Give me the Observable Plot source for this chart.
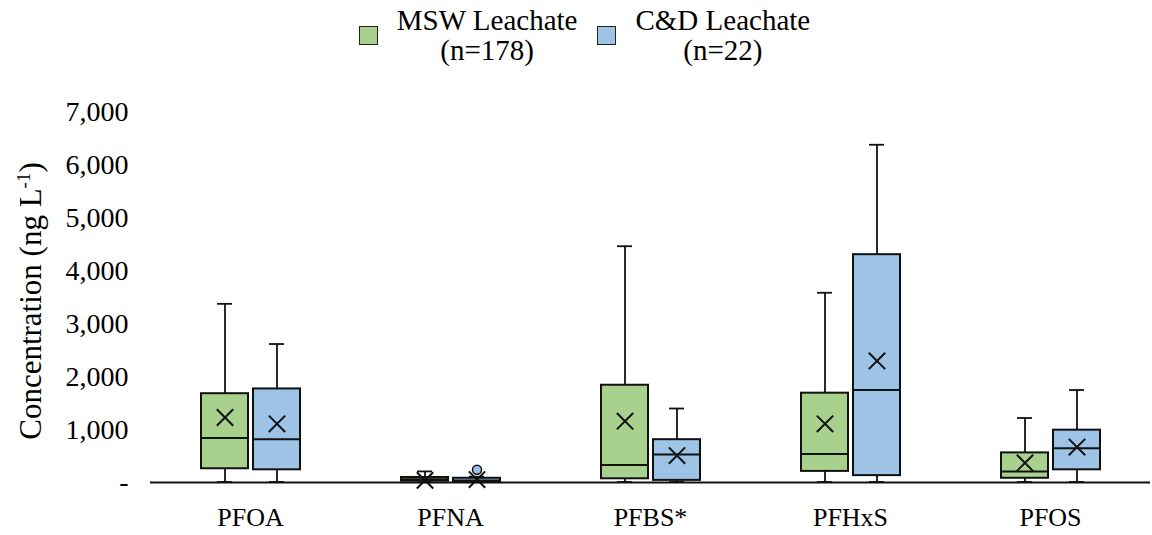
<!DOCTYPE html>
<html><head><meta charset="utf-8">
<script src="https://cdn.jsdelivr.net/npm/d3@7"></script>
<script src="https://cdn.jsdelivr.net/npm/@observablehq/plot@0.6"></script>
<style>
body{margin:0;background:#fff;font-family:"Liberation Serif","Times New Roman",serif;color:#000}
#legend{display:flex;justify-content:center;align-items:center;height:70px;padding-left:17px;box-sizing:border-box;font-size:29px;line-height:30px}
.item{display:flex;align-items:center}
.item + .item{margin-left:20px}
.sw{width:17px;height:17px;border:1.5px solid #222;margin-right:19px}
.lab{text-align:center}
</style></head><body>
<div id="legend"></div>
<div id="chart"></div>
<script>
const categories = ["PFOA", "PFNA", "PFBS*", "PFHxS", "PFOS"];
const seriesNames = ["MSW Leachate", "C&D Leachate"];
const seriesCounts = ["(n=178)", "(n=22)"];
const seriesColors = ["#A9D18E", "#9DC3E6"];
const yTicks = [0, 1000, 2000, 3000, 4000, 5000, 6000, 7000];

// MSW Leachate (n=178)
const mswMin    = [10, 5, 10, 10, 10];
const mswQ1     = [260, 25, 70, 210, 80];
const mswMedian = [840, 60, 330, 540, 210];
const mswQ3     = [1680, 95, 1840, 1690, 560];
const mswMax    = [3380, 210, 4470, 3590, 1220];
const mswMean   = [1230, 40, 1160, 1110, 370];

// C&D Leachate (n=22)
const cdMin    = [10, 5, 10, 10, 10];
const cdQ1     = [240, 5, 40, 130, 240];
const cdMedian = [820, 40, 530, 1750, 650];
const cdQ3     = [1770, 80, 810, 4310, 990];
const cdMax    = [2620, 110, 1400, 6390, 1750];
const cdMean   = [1110, 55, 510, 2300, 670];

// outliers
const outlierCategory = ["PFNA"];
const outlierSeries = ["C&D Leachate"];
const outlierValue = [240];

const rows = [];
const src = [
  [mswMin, mswQ1, mswMedian, mswQ3, mswMax, mswMean],
  [cdMin, cdQ1, cdMedian, cdQ3, cdMax, cdMean]
];
categories.forEach((c, i) => {
  seriesNames.forEach((s, j) => {
    const [mn, q1, md, q3, mx, me] = src[j];
    rows.push({cat: c, series: s, min: mn[i], q1: q1[i], median: md[i], q3: q3[i], max: mx[i], mean: me[i]});
  });
});
const outliers = outlierValue.map((v, i) => ({cat: outlierCategory[i], series: outlierSeries[i], value: v}));

// legend
const legend = document.getElementById("legend");
seriesNames.forEach((s, j) => {
  const item = document.createElement("div");
  item.className = "item";
  const sw = document.createElement("div");
  sw.className = "sw";
  sw.style.background = seriesColors[j];
  const lab = document.createElement("div");
  lab.className = "lab";
  const l1 = document.createElement("div"); l1.textContent = s;
  const l2 = document.createElement("div"); l2.textContent = seriesCounts[j];
  lab.append(l1, l2);
  item.append(sw, lab);
  legend.append(item);
});

const ink = "#111";
const plot = Plot.plot({
  width: 1152,
  height: 465,
  marginTop: 42,
  marginBottom: 53,
  marginLeft: 150,
  marginRight: 2,
  style: {fontFamily: "'Liberation Serif', 'Times New Roman', serif", fontSize: "28px", color: "#000", background: "#fff"},
  fx: {domain: categories, padding: 0, label: null},
  x: {domain: seriesNames, paddingInner: 0.1, paddingOuter: 0.973, axis: null},
  y: {domain: [0, 7000], label: null},
  color: {domain: seriesNames, range: seriesColors},
  marks: [
    Plot.axisY({ticks: yTicks, tickFormat: d => d === 0 ? "-" : d3.format(",")(d), tickSize: 0, tickPadding: 22, fontSize: 28,
      label: "Concentration (ng L-1)", labelAnchor: "center", labelArrow: "none", labelOffset: 132}),
    Plot.axisFx({anchor: "bottom", tickSize: 0, tickPadding: 25, fontSize: 26, label: null}),
    Plot.ruleY([0], {stroke: ink, strokeWidth: 2}),
    Plot.ruleX(rows, {fx: "cat", x: "series", y1: "min", y2: "q1", stroke: ink, strokeWidth: 1.8}),
    Plot.ruleX(rows, {fx: "cat", x: "series", y1: "q3", y2: "max", stroke: ink, strokeWidth: 1.8}),
    Plot.tickY(rows, {fx: "cat", x: "series", y: "max", stroke: ink, strokeWidth: 1.8, inset: 16}),
    Plot.tickY(rows, {fx: "cat", x: "series", y: "min", stroke: ink, strokeWidth: 1.8, inset: 16}),
    Plot.barY(rows, {fx: "cat", x: "series", y1: "q1", y2: "q3", fill: "series", stroke: ink, strokeWidth: 2}),
    Plot.tickY(rows, {fx: "cat", x: "series", y: "median", stroke: ink, strokeWidth: 2}),
    Plot.dot(rows, {fx: "cat", x: "series", y: "mean", symbol: "times", r: 7.5, stroke: ink, strokeWidth: 2}),
    Plot.dot(outliers, {fx: "cat", x: "series", y: "value", r: 4.5, fill: "series", stroke: ink, strokeWidth: 1.5})
  ]
});
document.getElementById("chart").append(plot);

// superscript in the y-axis label, then centre it on the reference position
const lbl = plot.querySelector('g[aria-label="y-axis label"] text');
if (lbl) {
  lbl.textContent = "";
  lbl.setAttribute("font-size", "31");
  const ns = "http://www.w3.org/2000/svg";
  const t1 = document.createElementNS(ns, "tspan"); t1.textContent = "Concentration (ng L";
  const t2 = document.createElementNS(ns, "tspan"); t2.textContent = "-1"; t2.setAttribute("dy", "-11"); t2.setAttribute("font-size", "19");
  const t3 = document.createElementNS(ns, "tspan"); t3.textContent = ")"; t3.setAttribute("dy", "11");
  lbl.append(t1, t2, t3);
  const r = lbl.getBoundingClientRect();
  const current = (r.top + r.bottom) / 2;
  const desired = 301;
  const shift = current - desired;
  const tr = lbl.getAttribute("transform") || "";
  lbl.setAttribute("transform", tr + ` translate(${shift},0)`);
}
</script>
</body></html>
